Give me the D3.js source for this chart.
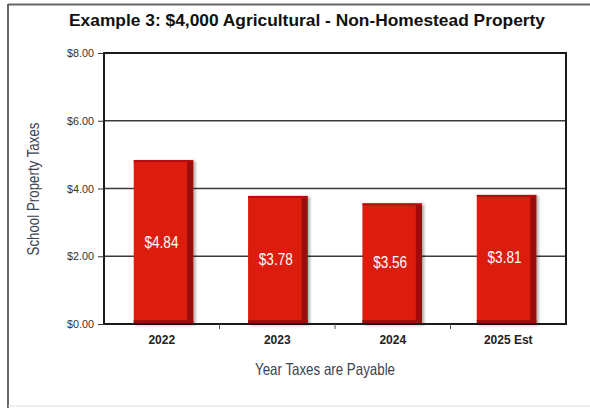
<!DOCTYPE html>
<html><head><meta charset="utf-8">
<script src="https://cdn.jsdelivr.net/npm/d3@7"></script>
<style>body{margin:0;background:#fff;}</style>
</head><body>
<svg id="c" width="590" height="408"></svg>
<script>
const categories = ["2022", "2023", "2024", "2025 Est"];
const values = [4.84, 3.78, 3.56, 3.81];
const valueLabels = ["$4.84", "$3.78", "$3.56", "$3.81"];
const yTicks = [0, 2, 4, 6, 8];
const yTickLabels = ["$0.00", "$2.00", "$4.00", "$6.00", "$8.00"];
const title = "Example 3: $4,000 Agricultural - Non-Homestead Property";
const yTitle = "School Property Taxes";
const xTitle = "Year Taxes are Payable";

const svg = d3.select("#c");
const m = {l: 104, r: 566, t: 53, b: 324};
const sans = "'Liberation Sans',Arial,sans-serif";

// frame
svg.append("line").attr("x1",8).attr("x2",8).attr("y1",4).attr("y2",408).attr("stroke","#666").attr("stroke-width",2);
svg.append("line").attr("x1",8).attr("x2",590).attr("y1",4.5).attr("y2",4.5).attr("stroke","#666").attr("stroke-width",2);
svg.append("line").attr("x1",8).attr("x2",590).attr("y1",406).attr("y2",406).attr("stroke","#ddd").attr("stroke-width",1);

const x = d3.scaleBand().domain(categories).range([m.l, m.r]).paddingInner(0.48).paddingOuter(0.26);
const xb = d3.scaleBand().domain(categories).range([m.l, m.r]);
const y = d3.scaleLinear().domain([0, 8]).range([m.b, m.t]);

// gridlines
svg.append("g").selectAll("line").data(yTicks.filter(t=>t>0 && t<8)).join("line")
  .attr("x1", m.l).attr("x2", m.r).attr("y1", d=>y(d)).attr("y2", d=>y(d))
  .attr("stroke","#3a3a3a").attr("stroke-width",1.5);

// bars
const defs = svg.append("defs");
const f = defs.append("filter").attr("id","sh").attr("x","-20%").attr("y","-20%").attr("width","150%").attr("height","150%");
f.append("feGaussianBlur").attr("in","SourceAlpha").attr("stdDeviation",1.5);
f.append("feOffset").attr("dx",2).attr("dy",1).attr("result","o");
f.append("feComponentTransfer").append("feFuncA").attr("type","linear").attr("slope",0.35);
const mg = f.append("feMerge"); mg.append("feMergeNode"); mg.append("feMergeNode").attr("in","SourceGraphic");

const bars = svg.append("g").selectAll("g").data(values).join("g").attr("filter","url(#sh)");
bars.append("rect").attr("x",(d,i)=>x(categories[i])).attr("y",d=>y(d))
  .attr("width",x.bandwidth()).attr("height",d=>y(0)-y(d)).attr("fill","#dc1a10");
bars.append("rect").attr("x",(d,i)=>x(categories[i])+x.bandwidth()-6).attr("y",d=>y(d)+1)
  .attr("width",6).attr("height",d=>y(0)-y(d)-1).attr("fill","#9a0d08");
bars.append("rect").attr("x",(d,i)=>x(categories[i])).attr("y",d=>y(d))
  .attr("width",x.bandwidth()).attr("height",2).attr("fill","#b51008");
bars.append("rect").attr("x",(d,i)=>x(categories[i])).attr("y",d=>y(0)-4)
  .attr("width",x.bandwidth()).attr("height",4).attr("fill","#a00e08");

// value labels
svg.append("g").selectAll("text").data(values).join("text")
  .attr("x",(d,i)=>x(categories[i])+x.bandwidth()/2-2)
  .attr("y",(d,i)=>[248,265,268,263][i])
  .attr("text-anchor","middle").attr("fill","#fff")
  .attr("font-family",sans).attr("font-size",16.5)
  .attr("textLength",34).attr("lengthAdjust","spacingAndGlyphs")
  .text((d,i)=>valueLabels[i]);

// plot border
svg.append("rect").attr("x",m.l).attr("y",m.t).attr("width",m.r-m.l).attr("height",m.b-m.t)
  .attr("fill","none").attr("stroke","#1a1a1a").attr("stroke-width",2);

// y axis
const ya = svg.append("g").attr("transform",`translate(${m.l},0)`)
  .call(d3.axisLeft(y).tickValues(yTicks).tickFormat((d,i)=>yTickLabels[i]).tickSize(6).tickPadding(4));
ya.select(".domain").remove();
ya.selectAll("line").attr("stroke","#333");
ya.selectAll("text").attr("font-family",sans).attr("font-size",11.5).attr("fill","#333")
  .attr("textLength",27).attr("lengthAdjust","spacingAndGlyphs");

// x axis
const xa = svg.append("g").attr("transform",`translate(0,${m.b})`)
  .call(d3.axisBottom(xb).tickSize(0).tickPadding(11));
xa.select(".domain").remove();
xa.selectAll("text").attr("font-family",sans).attr("font-weight","bold").attr("font-size",12).attr("fill","#222");
svg.append("g").selectAll("line").data(categories.slice(1)).join("line")
  .attr("x1",d=>xb(d)).attr("x2",d=>xb(d)).attr("y1",m.b).attr("y2",m.b+5).attr("stroke","#555");

// titles
svg.append("text").attr("x",307).attr("y",26).attr("text-anchor","middle")
  .attr("font-family",sans).attr("font-weight","bold").attr("font-size",16.5).attr("fill","#111")
  .attr("textLength",476).attr("lengthAdjust","spacingAndGlyphs")
  .text(title);
svg.append("text").attr("transform","translate(39,189) rotate(-90)").attr("text-anchor","middle")
  .attr("font-family",sans).attr("font-size",16.5).attr("fill","#3b4252")
  .attr("textLength",133).attr("lengthAdjust","spacingAndGlyphs").text(yTitle);
svg.append("text").attr("x",325).attr("y",375).attr("text-anchor","middle")
  .attr("font-family",sans).attr("font-size",16.5).attr("fill","#3b4252")
  .attr("textLength",140).attr("lengthAdjust","spacingAndGlyphs").text(xTitle);
</script>
</body></html>
